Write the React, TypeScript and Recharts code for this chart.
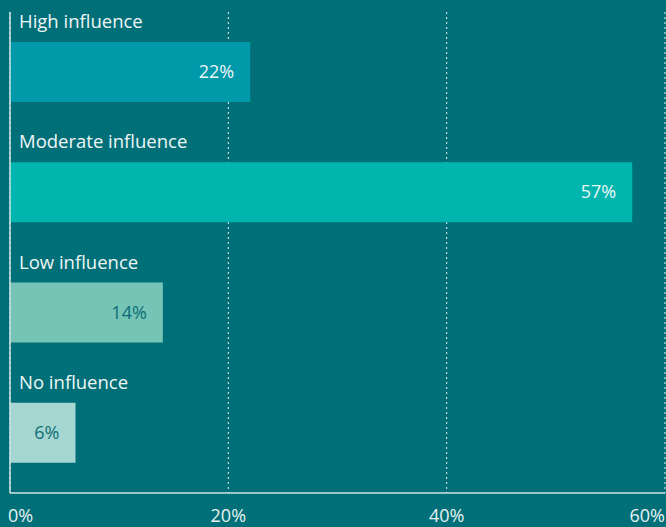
import React from 'react';
import { BarChart, Bar, XAxis, YAxis, CartesianGrid, Cell, LabelList } from 'recharts';

const categories = ['High influence', 'Moderate influence', 'Low influence', 'No influence'];
const shares = [22, 57, 14, 6];
const barColors = ['#0099aa', '#00b5ae', '#75c4b6', '#a5d7d2'];
const valueColors = ['#eef6f6', '#eef6f6', '#0e6e75', '#0e6e75'];
const xTicks = [0, 20, 40, 60];

const data = categories.map((name, i) => ({ name, value: shares[i] }));

const FONT = '"Open Sans", "Noto Sans", sans-serif';
const BG = '#006f77';

const AxisTick = (props: any) => {
  const { x, y, payload, index } = props;
  const anchor = index === 0 ? 'start' : index === xTicks.length - 1 ? 'end' : 'middle';
  const dx = index === 0 ? -2 : 0;
  return (
    <text x={x + dx} y={y + 21} textAnchor={anchor} fill="#e8f2f2" fontSize={18} fontFamily={FONT}>
      {payload.value}%
    </text>
  );
};

const NameLabel = (props: any) => {
  const { x, y, index } = props;
  return (
    <text x={x + 9} y={y - 14} fill="#eef6f6" fontSize={18.5} fontFamily={FONT}>
      {categories[index]}
    </text>
  );
};

const ValueLabel = (props: any) => {
  const { x, y, width, height, index, value } = props;
  return (
    <text
      x={x + width - 16}
      y={y + height / 2 + 6}
      textAnchor="end"
      fill={valueColors[index]}
      fontSize={18}
      fontFamily={FONT}
    >
      {value}%
    </text>
  );
};

export default function App() {
  return (
    <div style={{ position: 'fixed', left: 0, top: 0, width: 666, height: 527, background: BG }}>
      <BarChart
        width={666}
        height={527}
        data={data}
        layout="vertical"
        margin={{ top: 12, right: 1, left: 0, bottom: 0 }}
        barCategoryGap="25%"
      >
        <CartesianGrid horizontal={false} stroke="#e8f2f2" strokeDasharray="2 3" />
        <XAxis
          type="number"
          domain={[0, 60]}
          ticks={xTicks}
          height={34}
          tickLine={false}
          axisLine={{ stroke: '#cfe3e3', strokeWidth: 1.5 }}
          tick={<AxisTick />}
          interval={0}
        />
        <YAxis
          type="category"
          dataKey="name"
          width={10}
          tick={false}
          tickLine={false}
          axisLine={{ stroke: '#cfe3e3', strokeWidth: 1.5 }}
        />
        <Bar dataKey="value" isAnimationActive={false}>
          {data.map((d, i) => (
            <Cell key={d.name} fill={barColors[i]} />
          ))}
          <LabelList dataKey="value" content={<NameLabel />} />
          <LabelList dataKey="value" content={<ValueLabel />} />
        </Bar>
      </BarChart>
    </div>
  );
}
